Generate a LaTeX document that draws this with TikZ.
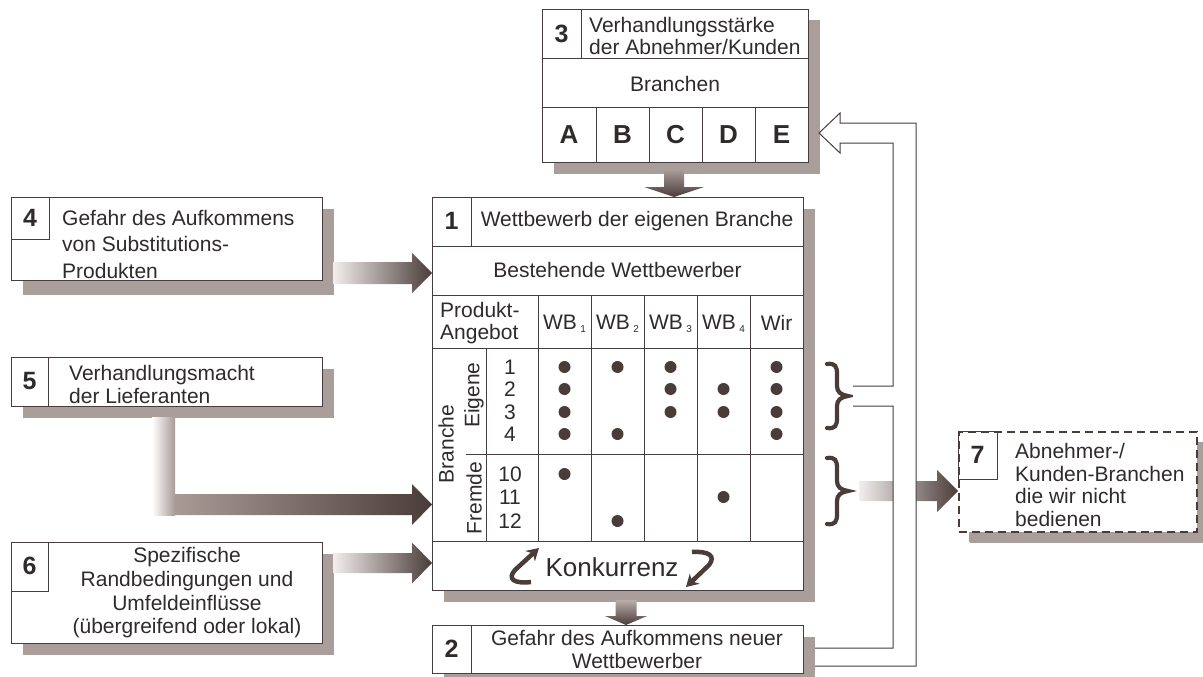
\documentclass[tikz,border=0pt]{standalone}
\usepackage{fontspec}
\setmainfont{Liberation Sans}
\usetikzlibrary{shadows,arrows.meta,calc}
\definecolor{ln}{HTML}{463E3E}
\definecolor{ink}{HTML}{302B2B}
\definecolor{shd}{HTML}{AA9E9A}
\definecolor{dk}{HTML}{4A3C39}
\definecolor{lt}{HTML}{F2EEED}
\definecolor{mid}{HTML}{A89A95}

% horizontal block arrow: [left colour]{start}{tip}{shaft half}{head half}{head length}
\newcommand\hblock[6][lt]{%
  \shade[left color=#1,right color=dk]
    ($(#2)+(0,-#4)$) -- ($(#3)+(-#6,-#4)$) -- ($(#3)+(-#6,-#5)$) -- (#3)
    -- ($(#3)+(-#6,#5)$) -- ($(#3)+(-#6,#4)$) -- ($(#2)+(0,#4)$) -- cycle;}
% vertical block arrow pointing down
\newcommand\vblock[6][mid]{%
  \shade[top color=#1,bottom color=dk]
    ($(#2)+(-#4,0)$) -- ($(#3)+(-#4,-#6)$) -- ($(#3)+(-#5,-#6)$) -- (#3)
    -- ($(#3)+(#5,-#6)$) -- ($(#3)+(#4,-#6)$) -- ($(#2)+(#4,0)$) -- cycle;}
% thick curly brace opening to the right, top end at (#1,#2), bottom end at (#1,#3)
\newcommand\curlybrace[3]{%
  \pgfmathsetmacro\ym{(#2+#3)/2}%
  \draw[brc] (#1,#2) .. controls (#1+8,#2-1) and (#1+10,#2+2) .. (#1+10,#2+10)
    -- (#1+10,\ym-10) .. controls (#1+10,\ym-4) and (#1+14,\ym-1) .. (#1+21,\ym)
    .. controls (#1+14,\ym+1) and (#1+10,\ym+4) .. (#1+10,\ym+10)
    -- (#1+10,#3-10) .. controls (#1+10,#3-2) and (#1+8,#3+1) .. (#1,#3);}

\begin{document}
\begin{tikzpicture}[x=1pt,y=-1pt,
  box/.style={draw=ln,fill=white,line width=1pt,inner sep=0pt,anchor=north west,
    drop shadow={shadow xshift=11pt,shadow yshift=-11pt,fill=shd,opacity=1}},
  cell/.style={draw=ln,line width=1pt},
  lbl/.style={text=ink,font=\fontsize{21}{23}\selectfont,inner sep=0pt},
  num/.style={text=ink,font=\fontsize{25}{25}\selectfont\bfseries,inner sep=0pt},
  dotm/.style={fill=dk,draw=none},
  band/.style={draw=ln,line width=1pt},
  brc/.style={draw=dk,line width=4.2pt,line cap=round},
  swing/.style={draw=dk,line width=4.5pt,-{Stealth[length=12pt,width=14pt]}}
]
\useasboundingbox (0,0) rectangle (1203,677);
\fill[white] (0,0) rectangle (1203,677);

% ---------- boxes ----------
\node[box,minimum width=266pt,minimum height=153pt] (b3) at (542,9) {};
\node[box,minimum width=371pt,minimum height=393pt] (b1) at (432,197) {};
\node[box,minimum width=371pt,minimum height=48pt] (b2) at (432,625) {};
\node[box,minimum width=311pt,minimum height=83pt,
  drop shadow={shadow xshift=11pt,shadow yshift=-14pt,fill=shd,opacity=1}] (b4) at (11,197) {};
\node[box,minimum width=311pt,minimum height=49pt] (b5) at (11,357) {};
\node[box,minimum width=311pt,minimum height=101pt] (b6) at (11,542) {};
\node[box,minimum width=238pt,minimum height=100pt,draw=dk,dash pattern=on 8pt off 5pt,line width=1.6pt,
  drop shadow={shadow xshift=10pt,shadow yshift=-10pt,fill=shd,opacity=1}] (b7) at (958,431) {};

% ---------- box 3 ----------
\draw[cell] (542,59) -- (808,59) (581,9) -- (581,59) (542,108) -- (808,108);
\foreach \x in {596,649,702,755} \draw[cell] (\x,108) -- (\x,162);
\node[num] at (561.5,34) {3};
\node[lbl,anchor=west,align=left,font=\fontsize{21}{22}\selectfont] at (589,36) {Verhandlungsstärke\\der Abnehmer/Kunden};
\node[lbl] at (675,84) {Branchen};
\foreach \x/\t in {569/A,622.5/B,675.5/C,728.5/D,781.5/E}
  \node[num,font=\fontsize{26}{26}\selectfont\bfseries] at (\x,135) {\t};

% ---------- box 1 ----------
\draw[cell] (432,246) -- (803,246) (471,197) -- (471,246)
  (432,295) -- (803,295) (432,348) -- (803,348)
  (486,348) -- (486,541) (466,454) -- (803,454) (432,541) -- (803,541);
\foreach \x in {538,591,644,697,750} \draw[cell] (\x,295) -- (\x,541);
\node[num] at (451.5,221) {1};
\node[lbl] at (637,221) {Wettbewerb der eigenen Branche};
\node[lbl] at (617.5,270) {Bestehende Wettbewerber};
\node[lbl,anchor=west,align=left,font=\fontsize{21}{22}\selectfont] at (440,323) {Produkt-\\Angebot};
\foreach \x/\i in {564.5/1,617.5/2,670.5/3,723.5/4}
  \node[lbl] at (\x,324) {WB\,\raisebox{-3pt}{\fontsize{10}{10}\selectfont\i}};
\node[lbl] at (776.5,323) {Wir};
\node[lbl,rotate=90] at (446,444) {Branche};
\node[lbl,rotate=90] at (474,395) {Eigene};
\node[lbl,rotate=90] at (474,498) {Fremde};
\foreach \y/\n in {367/1,389/2,412/3,434/4,474/10,497/11,521/12}
  \node[lbl] at (510,\y) {\n};
% offers per competitor
\foreach \x/\ys in {564.5/{367,389,412,434,474},617.5/{367,434,521},670.5/{367,389,412},
                    723.5/{389,412,497},776.5/{367,389,412,434}}
  \foreach \y in \ys \fill[dotm] (\x,\y) circle (6pt);
\node[lbl,font=\fontsize{26}{26}\selectfont] (konk) at (612,567) {Konkurrenz};
\draw[swing] (531,582) .. controls (514,584) and (507,579) .. (515,570) -- (539,548);
\draw[swing] (692,552) .. controls (709,551) and (716,556) .. (709,565) -- (686,587);

% ---------- box 2 ----------
\draw[cell] (471,625) -- (471,673);
\node[num] at (451.5,649) {2};
\node[lbl,align=center,font=\fontsize{21}{23}\selectfont] at (637,649) {Gefahr des Aufkommens neuer\\Wettbewerber};

% ---------- boxes 4, 5, 6 ----------
\draw[cell] (49,197) -- (49,239) -- (11,239);
\node[num] at (30,218) {4};
\node[lbl,anchor=west,align=left,font=\fontsize{21}{26.5}\selectfont] at (62,244) {Gefahr des Aufkommens\\von Substitutions-\\Produkten};
\draw[cell] (48,357) -- (48,406);
\node[num] at (29.5,381) {5};
\node[lbl,anchor=west,align=left,font=\fontsize{21}{23}\selectfont] at (69,384) {Verhandlungsmacht\\der Lieferanten};
\draw[cell] (48,542) -- (48,591) -- (11,591);
\node[num] at (29.5,566) {6};
\node[lbl,align=center,font=\fontsize{21}{23.7}\selectfont] at (187,593) {Spezifische\\Randbedingungen und\\Umfeldeinflüsse\\(übergreifend oder lokal)};

% ---------- box 7 ----------
\draw[cell] (958,431) rectangle (997,479);
\node[num] at (977.5,455) {7};
\node[lbl,anchor=west,align=left,font=\fontsize{21}{22.4}\selectfont] at (1015,485) {Abnehmer-/\\Kunden-Branchen\\die wir nicht\\bedienen};

% ---------- block arrows ----------
\coordinate (s31) at (674,170);
\coordinate (t31) at (s31 |- b1.north);
\vblock{s31}{t31}{10}{30}{10}
\coordinate (s12) at (626,600);
\coordinate (t12) at (s12 |- b2.north);
\vblock[mid!80]{s12}{t12}{10.5}{21}{9}

\coordinate (s4) at (333,273);
\coordinate (t4) at (b1.west |- s4);
\hblock{s4}{t4}{11}{20}{20}

\shade[left color=white,right color=mid] (152,417) rectangle (175,515);
\coordinate (s5) at (175,504.5);
\coordinate (t5) at (b1.west |- s5);
\hblock[mid]{s5}{t5}{10.5}{20.5}{20}

\coordinate (s6) at (333,563);
\coordinate (t6) at (b1.west |- s6);
\hblock{s6}{t6}{10}{20.5}{20}

\coordinate (s7) at (859,491);
\coordinate (t7) at (b7.west |- s7);
\hblock{s7}{t7}{10}{21}{21}

% ---------- braces ----------
\curlybrace{827}{364}{428}
\curlybrace{827}{458}{524}

% ---------- hollow feedback arrow ----------
\fill[white] (815,648) -- (893,648) -- (893,406) -- (853,406) -- (853,386) -- (893,386)
  -- (893,143) -- (840,143) -- (840,153) -- (819,133) -- (840,113) -- (840,123)
  -- (916,123) -- (916,666) -- (815,666) -- cycle;
\draw[band] (815,648) -- (893,648) -- (893,406) -- (853,406)
  (853,386) -- (893,386) -- (893,143) -- (840,143) -- (840,153) -- (819,133)
  -- (840,113) -- (840,123) -- (916,123) -- (916,666) -- (815,666);
\end{tikzpicture}
\end{document}
